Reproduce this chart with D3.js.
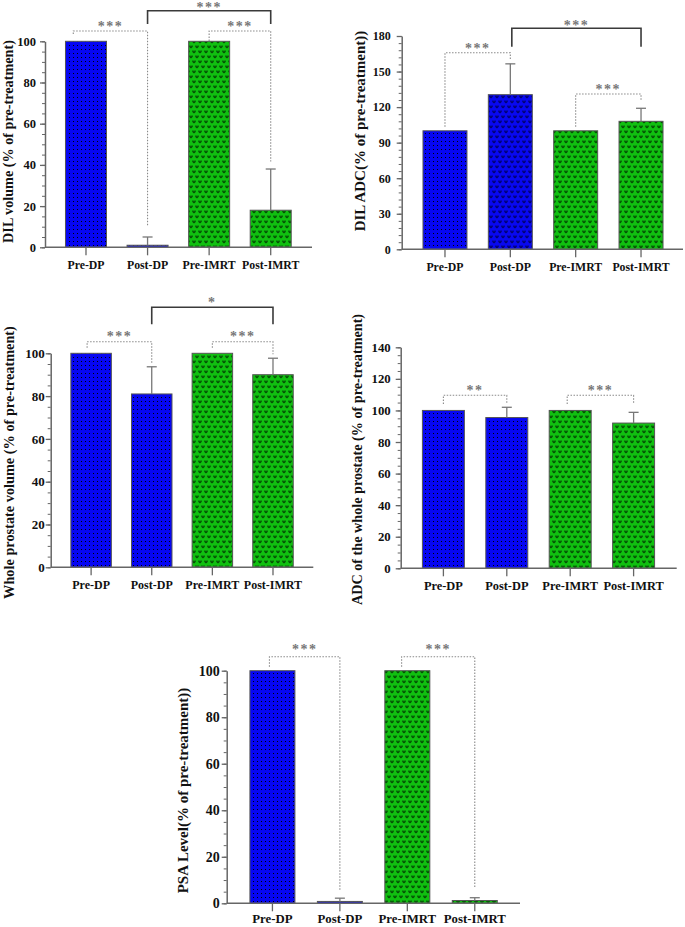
<!DOCTYPE html>
<html><head><meta charset="utf-8">
<script src="https://cdn.jsdelivr.net/npm/d3@7"></script>
<style>body{margin:0;background:#fff}svg{display:block}</style>
</head><body>
<svg id="chart" width="685" height="927"></svg>
<script>
// ---------- DATA ----------
const categories = ["Pre-DP", "Post-DP", "Pre-IMRT", "Post-IMRT"];

const dilVolumeMean = [100, 1, 100, 18];
const dilVolumeErr  = [0, 4, 0, 20];
const dilVolumeTicks = [0, 20, 40, 60, 80, 100];
const dilVolumeSig = [
  {from: 0, to: 1, label: "***", kind: "dotted"},
  {from: 2, to: 3, label: "***", kind: "dotted"},
  {from: 1, to: 3, label: "***", kind: "solid"}
];

const dilAdcMean = [100, 130.5, 100, 108];
const dilAdcErr  = [0, 26, 0, 11];
const dilAdcTicks = [0, 30, 60, 90, 120, 150, 180];
const dilAdcSig = [
  {from: 0, to: 1, label: "***", kind: "dotted"},
  {from: 1, to: 3, label: "***", kind: "solid"},
  {from: 2, to: 3, label: "***", kind: "dotted"}
];

const wholeVolMean = [100, 81, 100, 90];
const wholeVolErr  = [0, 12.7, 0, 7.7];
const wholeVolTicks = [0, 20, 40, 60, 80, 100];
const wholeVolSig = [
  {from: 0, to: 1, label: "***", kind: "dotted"},
  {from: 2, to: 3, label: "***", kind: "dotted"},
  {from: 1, to: 3, label: "*", kind: "solid"}
];

const wholeAdcMean = [100, 95.5, 100, 92];
const wholeAdcErr  = [0, 6.5, 0, 6.8];
const wholeAdcTicks = [0, 20, 40, 60, 80, 100, 120, 140];
const wholeAdcSig = [
  {from: 0, to: 1, label: "**", kind: "dotted"},
  {from: 2, to: 3, label: "***", kind: "dotted"}
];

const psaMean = [100, 0.8, 100, 1.2];
const psaErr  = [0, 1.4, 0, 1.2];
const psaTicks = [0, 20, 40, 60, 80, 100];
const psaSig = [
  {from: 0, to: 1, label: "***", kind: "dotted"},
  {from: 2, to: 3, label: "***", kind: "dotted"}
];

// ---------- LAYOUT ----------
const panels = [
  {title: "DIL volume (% of pre-treatment)", mean: dilVolumeMean, err: dilVolumeErr, ticks: dilVolumeTicks, sig: dilVolumeSig,
   yMax: 100, minor: 5, fills: ["dotsBlue","dotsBlue","heartsGreen","heartsGreen"],
   axisX: 45, xEnd: 312, y0: 247.3, yTop: 41.3, band: [55.2, 301.5], frac: 0.666, gap: 9, yfs: 12.5, xfs: 11.8, xpad: 5,
   titleX: 8, titleY: 141.5, tfs: 14.2,
   br: [{top: 105, le: 103.5, re: 10, ty: 107.9, dl: -12.7},
        {top: 105, le: 100.1, re: 41.6, ty: 107.9, dl: 0},
        {top: 114.8, le: 108.4, re: 108.4, ty: 116.9, dl: 0}]},
  {title: "DIL ADC(% of pre-treatment))", mean: dilAdcMean, err: dilAdcErr, ticks: dilAdcTicks, sig: dilAdcSig,
   yMax: 180, minor: 6, fills: ["dotsBlue","heartsBlue","heartsGreen","heartsGreen"],
   axisX: 401.7, xEnd: 683, y0: 249.3, yTop: 36, band: [412.3, 673.7], frac: 0.673, gap: 11, yfs: 12, xfs: 11.8, xpad: 5,
   titleX: 360, titleY: 131, tfs: 15,
   br: [{top: 165.9, le: 103.5, re: 159.7, ty: 171, dl: 0},
        {top: 186.5, le: 171, re: 171, ty: 190.5, dl: 1.5},
        {top: 131, le: 103.5, re: 126, ty: 135.9, dl: 0}]},
  {title: "Whole prostate volume (% of pre-treatment)", mean: wholeVolMean, err: wholeVolErr, ticks: wholeVolTicks, sig: wholeVolSig,
   yMax: 100, minor: 5, fills: ["dotsBlue","dotsBlue","heartsGreen","heartsGreen"],
   axisX: 50.7, xEnd: 313.3, y0: 567.3, yTop: 353.3, band: [60.8, 303.3], frac: 0.668, gap: 6, yfs: 13, xfs: 12, xpad: 5,
   titleX: 9.3, titleY: 462.5, tfs: 14.3,
   br: [{top: 105.4, le: 102.6, re: 95.3, ty: 108.6, dl: -4},
        {top: 105.4, le: 102.6, re: 99.5, ty: 108.6, dl: 0},
        {top: 121.5, le: 113.6, re: 113.6, ty: 124.3, dl: 0}]},
  {title: "ADC of the whole prostate (% of pre-treatment)", mean: wholeAdcMean, err: wholeAdcErr, ticks: wholeAdcTicks, sig: wholeAdcSig,
   yMax: 140, minor: 5, fills: ["dotsBlue","dotsBlue","heartsGreen","heartsGreen"],
   axisX: 400.7, xEnd: 676.7, y0: 568.3, yTop: 347.3, band: [411.7, 665.3], frac: 0.662, gap: 10, yfs: 12.8, xfs: 12.4, xpad: 5,
   titleX: 357, titleY: 459.5, tfs: 14.2,
   br: [{top: 109.6, le: 104.1, re: 104.1, ty: 113.4, dl: 0},
        {top: 109.6, le: 104.1, re: 104.1, ty: 113.4, dl: -3}]},
  {title: "PSA Level(% of pre-treatment))", mean: psaMean, err: psaErr, ticks: psaTicks, sig: psaSig,
   yMax: 100, minor: 5, fills: ["dotsBlue","dotsBlue","heartsGreen","heartsGreen"],
   axisX: 226.7, xEnd: 520, y0: 903.3, yTop: 670.7, band: [238.7, 508.5], frac: 0.667, gap: 7, yfs: 14, xfs: 12.8, xpad: 3,
   titleX: 182.7, titleY: 790.5, tfs: 15,
   br: [{top: 106, le: 101.7, re: 5.7, ty: 109.6, dl: -3},
        {top: 106, le: 101.7, re: 6.4, ty: 109.6, dl: -5.7}]}
];

const FONT = "'Liberation Serif','Times New Roman',serif";
const svg = d3.select("#chart");

// ---------- PATTERNS ----------
const defs = svg.append("defs");
function dotPattern(id, bg, dot) {
  const p = defs.append("pattern").attr("id", id).attr("patternUnits", "userSpaceOnUse")
    .attr("width", 4).attr("height", 4);
  p.append("rect").attr("width", 4).attr("height", 4).attr("fill", bg);
  p.append("rect").attr("x", 1).attr("y", 1).attr("width", 1).attr("height", 1).attr("fill", dot);
}
function heartPattern(id, bg, mark) {
  const p = defs.append("pattern").attr("id", id).attr("patternUnits", "userSpaceOnUse")
    .attr("width", 6).attr("height", 10);
  p.append("rect").attr("width", 6).attr("height", 10).attr("fill", bg);
  const heart = "M0.3,0.5 h1.3 v1 h0.8 v-1 h1.3 v1.4 l-1.7,1.7 l-1.7,-1.7 z";
  p.append("path").attr("d", heart).attr("fill", mark);
  p.append("path").attr("d", heart).attr("transform", "translate(3,5)").attr("fill", mark);
  p.append("path").attr("d", heart).attr("transform", "translate(-3,5)").attr("fill", mark);
}
dotPattern("dotsBlue", "#0606f2", "#000");
heartPattern("heartsBlue", "#0808f0", "#00006a");
heartPattern("heartsGreen", "#10c010", "#034a03");

// ---------- DRAW ----------
panels.forEach(P => {
  const g = svg.append("g");
  const y = d3.scaleLinear().domain([0, P.yMax]).range([P.y0, P.yTop]);
  const x = d3.scaleBand().domain(categories).range(P.band)
    .paddingInner(1 - P.frac).paddingOuter((1 - P.frac) / 2);
  const bw = x.bandwidth();
  const cx = c => x(c) + bw / 2;

  // minor ticks
  g.append("g").attr("transform", `translate(${P.axisX},0)`)
    .call(d3.axisLeft(y).tickValues(d3.range(0, P.yMax + 0.001, P.minor)).tickSize(3).tickSizeOuter(0).tickFormat(""))
    .call(a => a.select(".domain").remove())
    .selectAll("line").attr("stroke", "#666").attr("stroke-width", 1);

  // major y axis
  const ya = g.append("g").attr("transform", `translate(${P.axisX},0)`)
    .call(d3.axisLeft(y).tickValues(P.ticks).tickSize(5).tickSizeOuter(0).tickPadding(P.gap - 5));
  ya.select(".domain").attr("stroke", "#666").attr("stroke-width", 1.5);
  ya.selectAll(".tick line").attr("stroke", "#666").attr("stroke-width", 1.3);
  ya.selectAll("text").attr("font-family", FONT).attr("font-weight", "bold")
    .attr("font-size", P.yfs).attr("fill", "#111");

  // bars
  g.selectAll("rect.bar").data(categories).join("rect").attr("class", "bar")
    .attr("x", c => x(c)).attr("width", bw)
    .attr("y", (c, i) => y(P.mean[i])).attr("height", (c, i) => P.y0 - y(P.mean[i]))
    .attr("fill", (c, i) => `url(#${P.fills[i]})`)
    .attr("stroke", "#555").attr("stroke-width", 1);

  // error bars
  categories.forEach((c, i) => {
    if (!P.err[i]) return;
    const xc = cx(c), top = y(P.mean[i] + P.err[i]);
    g.append("line").attr("x1", xc).attr("x2", xc).attr("y1", y(P.mean[i])).attr("y2", top)
      .attr("stroke", "#777").attr("stroke-width", 1.3);
    g.append("line").attr("x1", xc - 5).attr("x2", xc + 5).attr("y1", top).attr("y2", top)
      .attr("stroke", "#777").attr("stroke-width", 1.3);
  });

  // x axis
  g.append("line").attr("x1", P.axisX).attr("x2", P.xEnd).attr("y1", P.y0).attr("y2", P.y0)
    .attr("stroke", "#666").attr("stroke-width", 1.5);
  const xa = g.append("g").attr("transform", `translate(0,${P.y0})`)
    .call(d3.axisBottom(x).tickSize(8).tickSizeOuter(0).tickPadding(P.xpad));
  xa.select(".domain").remove();
  xa.selectAll(".tick line").attr("stroke", "#666").attr("stroke-width", 1.3);
  xa.selectAll("text").attr("font-family", FONT).attr("font-weight", "bold")
    .attr("font-size", P.xfs).attr("fill", "#111");

  // y title
  g.append("text").attr("transform", `translate(${P.titleX},${P.titleY}) rotate(-90)`)
    .attr("text-anchor", "middle").attr("dominant-baseline", "central")
    .attr("font-family", FONT).attr("font-weight", "bold").attr("font-size", P.tfs)
    .attr("fill", "#111").text(P.title);

  // significance brackets
  P.sig.forEach((s, k) => {
    const b = P.br[k];
    const xl = cx(categories[s.from]) + (b.dl || 0);
    const xr = cx(categories[s.to]);
    const dotted = s.kind === "dotted";
    g.append("path")
      .attr("d", `M${xl},${y(b.le)}V${y(b.top)}H${xr}V${y(b.re)}`)
      .attr("fill", "none")
      .attr("stroke", dotted ? "#8a8a8a" : "#3a3a3a")
      .attr("stroke-width", dotted ? 1.1 : 1.6)
      .attr("stroke-dasharray", dotted ? "1.5,1.5" : null);
    g.append("text").attr("x", (xl + xr) / 2).attr("y", y(b.ty) + 6)
      .attr("text-anchor", "middle").attr("font-family", FONT).attr("font-weight", "bold")
      .attr("font-size", 14).attr("letter-spacing", 1.5).attr("fill", "#777").text(s.label);
  });
});
</script>
</body></html>
